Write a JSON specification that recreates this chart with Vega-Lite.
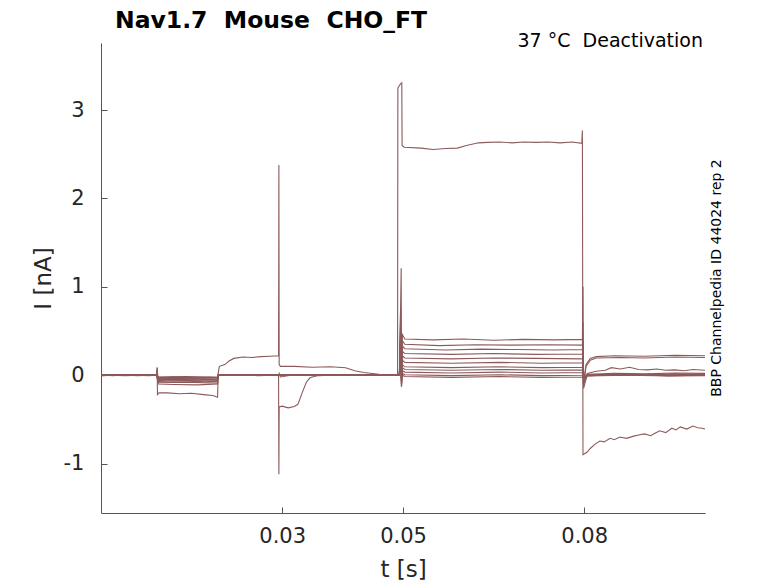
{
  "$schema": "https://vega.github.io/schema/vega-lite/v6.json",
  "description": "Nav1.7 deactivation current traces",
  "width": 604,
  "height": 470,
  "autosize": {"type": "none"},
  "padding": {"left": 101, "top": 43, "right": 73, "bottom": 70},
  "background": "#ffffff",
  "config": {"view": {"stroke": null}, "font": "DejaVu Sans"},
  "title": {
    "text": "Nav1.7\u00a0\u00a0Mouse\u00a0\u00a0CHO_FT",
    "anchor": "start",
    "frame": "group",
    "font": "DejaVu Sans",
    "fontSize": 23.5,
    "fontWeight": "bold",
    "color": "#000000",
    "dx": 14,
    "offset": 0
  },
  "datasets": {
    "traces": [
      {"s":"A","t":0,"i":0.004},{"s":"A","t":0.002,"i":-0.006},{"s":"A","t":0.004,"i":0.005},{"s":"A","t":0.006,"i":-0.004},{"s":"A","t":0.008,"i":0.006},{"s":"A","t":0.0092,"i":0},
      {"s":"A","t":0.0093,"i":0.08},{"s":"A","t":0.00935,"i":-0.04},{"s":"A","t":0.0096,"i":-0.03},{"s":"A","t":0.012,"i":-0.02},{"s":"A","t":0.015,"i":-0.035},{"s":"A","t":0.018,"i":-0.025},{"s":"A","t":0.0193,"i":-0.03},
      {"s":"A","t":0.0194,"i":0},{"s":"A","t":0.021,"i":0.005},{"s":"A","t":0.024,"i":-0.004},{"s":"A","t":0.027,"i":0.006},{"s":"A","t":0.0294,"i":0},
      {"s":"A","t":0.0295,"i":0.02},{"s":"A","t":0.0297,"i":-0.02},{"s":"A","t":0.032,"i":0.004},{"s":"A","t":0.036,"i":-0.005},{"s":"A","t":0.04,"i":0.006},{"s":"A","t":0.044,"i":-0.004},{"s":"A","t":0.048,"i":0.005},{"s":"A","t":0.0491,"i":0},
      {"s":"A","t":0.04915,"i":3.25},{"s":"A","t":0.0495,"i":3.29},{"s":"A","t":0.0498,"i":3.31},{"s":"A","t":0.04985,"i":2.6},{"s":"A","t":0.0502,"i":2.58},{"s":"A","t":0.053,"i":2.57},{"s":"A","t":0.055,"i":2.555},{"s":"A","t":0.057,"i":2.565},{"s":"A","t":0.059,"i":2.57},{"s":"A","t":0.0605,"i":2.6},{"s":"A","t":0.0625,"i":2.63},{"s":"A","t":0.064,"i":2.635},{"s":"A","t":0.066,"i":2.64},{"s":"A","t":0.068,"i":2.63},{"s":"A","t":0.07,"i":2.64},{"s":"A","t":0.072,"i":2.635},{"s":"A","t":0.074,"i":2.64},{"s":"A","t":0.076,"i":2.63},{"s":"A","t":0.078,"i":2.64},{"s":"A","t":0.0796,"i":2.625},
      {"s":"A","t":0.0797,"i":2.77},{"s":"A","t":0.0798,"i":-0.9},{"s":"A","t":0.0805,"i":-0.87},{"s":"A","t":0.081,"i":-0.83},{"s":"A","t":0.0818,"i":-0.78},{"s":"A","t":0.0826,"i":-0.745},{"s":"A","t":0.0833,"i":-0.755},{"s":"A","t":0.0843,"i":-0.715},{"s":"A","t":0.085,"i":-0.73},{"s":"A","t":0.0859,"i":-0.7},{"s":"A","t":0.087,"i":-0.715},{"s":"A","t":0.0882,"i":-0.69},{"s":"A","t":0.0892,"i":-0.675},{"s":"A","t":0.09,"i":-0.665},{"s":"A","t":0.091,"i":-0.685},{"s":"A","t":0.0918,"i":-0.655},{"s":"A","t":0.0925,"i":-0.63},{"s":"A","t":0.0935,"i":-0.65},{"s":"A","t":0.0945,"i":-0.6},{"s":"A","t":0.0952,"i":-0.62},{"s":"A","t":0.0959,"i":-0.585},{"s":"A","t":0.097,"i":-0.61},{"s":"A","t":0.098,"i":-0.575},{"s":"A","t":0.0988,"i":-0.595},{"s":"A","t":0.0995,"i":-0.6},{"s":"A","t":0.1,"i":-0.61},

      {"s":"B","t":0,"i":-0.005},{"s":"B","t":0.003,"i":0.006},{"s":"B","t":0.006,"i":-0.004},{"s":"B","t":0.0092,"i":0.004},
      {"s":"B","t":0.0093,"i":0.05},{"s":"B","t":0.0095,"i":-0.05},{"s":"B","t":0.012,"i":-0.045},{"s":"B","t":0.016,"i":-0.055},{"s":"B","t":0.0193,"i":-0.05},
      {"s":"B","t":0.0194,"i":0},{"s":"B","t":0.022,"i":0.004},{"s":"B","t":0.026,"i":-0.005},{"s":"B","t":0.0294,"i":0.003},
      {"s":"B","t":0.0295,"i":0},{"s":"B","t":0.033,"i":-0.004},{"s":"B","t":0.038,"i":0.005},{"s":"B","t":0.043,"i":-0.003},{"s":"B","t":0.0494,"i":0.004},
      {"s":"B","t":0.0495,"i":0.3},{"s":"B","t":0.0497,"i":1.21},{"s":"B","t":0.04975,"i":-0.12},{"s":"B","t":0.0499,"i":0.46},{"s":"B","t":0.0503,"i":0.41},{"s":"B","t":0.055,"i":0.4},{"s":"B","t":0.06,"i":0.41},{"s":"B","t":0.065,"i":0.395},{"s":"B","t":0.07,"i":0.405},{"s":"B","t":0.075,"i":0.4},{"s":"B","t":0.0797,"i":0.405},
      {"s":"B","t":0.0798,"i":1.0},{"s":"B","t":0.07985,"i":-0.1},{"s":"B","t":0.0803,"i":0.12},{"s":"B","t":0.081,"i":0.19},{"s":"B","t":0.082,"i":0.21},{"s":"B","t":0.085,"i":0.22},{"s":"B","t":0.09,"i":0.215},{"s":"B","t":0.095,"i":0.225},{"s":"B","t":0.1,"i":0.22},

      {"s":"C","t":0,"i":0.005},{"s":"C","t":0.003,"i":-0.004},{"s":"C","t":0.006,"i":0.005},{"s":"C","t":0.0092,"i":-0.003},
      {"s":"C","t":0.0095,"i":-0.04},{"s":"C","t":0.012,"i":-0.035},{"s":"C","t":0.016,"i":-0.045},{"s":"C","t":0.0193,"i":-0.04},
      {"s":"C","t":0.0194,"i":0.003},{"s":"C","t":0.023,"i":-0.004},{"s":"C","t":0.0294,"i":0.004},
      {"s":"C","t":0.0296,"i":-0.003},{"s":"C","t":0.034,"i":0.004},{"s":"C","t":0.04,"i":-0.004},{"s":"C","t":0.045,"i":0.003},{"s":"C","t":0.0494,"i":-0.002},
      {"s":"C","t":0.0496,"i":0.75},{"s":"C","t":0.04975,"i":-0.1},{"s":"C","t":0.0499,"i":0.39},{"s":"C","t":0.0503,"i":0.35},{"s":"C","t":0.056,"i":0.335},{"s":"C","t":0.062,"i":0.345},{"s":"C","t":0.068,"i":0.34},{"s":"C","t":0.074,"i":0.345},{"s":"C","t":0.0797,"i":0.34},
      {"s":"C","t":0.0798,"i":0.6},{"s":"C","t":0.0799,"i":-0.12},{"s":"C","t":0.0803,"i":0.1},{"s":"C","t":0.081,"i":0.17},{"s":"C","t":0.082,"i":0.195},{"s":"C","t":0.086,"i":0.2},{"s":"C","t":0.09,"i":0.195},{"s":"C","t":0.095,"i":0.205},{"s":"C","t":0.1,"i":0.2},

      {"s":"D","t":0,"i":-0.003},{"s":"D","t":0.003,"i":0.005},{"s":"D","t":0.006,"i":-0.005},{"s":"D","t":0.0092,"i":0.003},
      {"s":"D","t":0.0095,"i":-0.06},{"s":"D","t":0.012,"i":-0.055},{"s":"D","t":0.016,"i":-0.065},{"s":"D","t":0.0193,"i":-0.06},
      {"s":"D","t":0.0194,"i":0},{"s":"D","t":0.024,"i":0.005},{"s":"D","t":0.0294,"i":-0.003},
      {"s":"D","t":0.0296,"i":0.004},{"s":"D","t":0.035,"i":-0.004},{"s":"D","t":0.042,"i":0.004},{"s":"D","t":0.0494,"i":0},
      {"s":"D","t":0.0496,"i":0.6},{"s":"D","t":0.04975,"i":-0.13},{"s":"D","t":0.0499,"i":0.33},{"s":"D","t":0.0503,"i":0.3},{"s":"D","t":0.057,"i":0.285},{"s":"D","t":0.063,"i":0.295},{"s":"D","t":0.069,"i":0.29},{"s":"D","t":0.075,"i":0.285},{"s":"D","t":0.0797,"i":0.29},
      {"s":"D","t":0.0798,"i":0.4},{"s":"D","t":0.0799,"i":-0.1},{"s":"D","t":0.0805,"i":0.02},{"s":"D","t":0.082,"i":0.045},{"s":"D","t":0.0835,"i":0.055},{"s":"D","t":0.0845,"i":0.085},{"s":"D","t":0.086,"i":0.07},{"s":"D","t":0.0875,"i":0.09},{"s":"D","t":0.089,"i":0.065},{"s":"D","t":0.0905,"i":0.06},{"s":"D","t":0.092,"i":0.07},{"s":"D","t":0.0935,"i":0.055},{"s":"D","t":0.095,"i":0.06},{"s":"D","t":0.0965,"i":0.05},{"s":"D","t":0.098,"i":0.065},{"s":"D","t":0.1,"i":0.055},

      {"s":"E","t":0,"i":0.006},{"s":"E","t":0.003,"i":-0.003},{"s":"E","t":0.006,"i":0.004},{"s":"E","t":0.0092,"i":-0.004},
      {"s":"E","t":0.0095,"i":-0.03},{"s":"E","t":0.013,"i":-0.025},{"s":"E","t":0.017,"i":-0.035},{"s":"E","t":0.0193,"i":-0.03},
      {"s":"E","t":0.0194,"i":0.002},{"s":"E","t":0.025,"i":-0.003},{"s":"E","t":0.0294,"i":0.004},
      {"s":"E","t":0.0296,"i":-0.002},{"s":"E","t":0.037,"i":0.004},{"s":"E","t":0.044,"i":-0.003},{"s":"E","t":0.0494,"i":0.002},
      {"s":"E","t":0.0496,"i":0.5},{"s":"E","t":0.04975,"i":-0.1},{"s":"E","t":0.0499,"i":0.27},{"s":"E","t":0.0503,"i":0.245},{"s":"E","t":0.058,"i":0.235},{"s":"E","t":0.065,"i":0.245},{"s":"E","t":0.072,"i":0.235},{"s":"E","t":0.0797,"i":0.24},
      {"s":"E","t":0.0798,"i":0.3},{"s":"E","t":0.0799,"i":-0.08},{"s":"E","t":0.0805,"i":0.01},{"s":"E","t":0.085,"i":0.02},{"s":"E","t":0.09,"i":0.015},{"s":"E","t":0.095,"i":0.025},{"s":"E","t":0.1,"i":0.02},

      {"s":"F","t":0,"i":-0.004},{"s":"F","t":0.003,"i":0.004},{"s":"F","t":0.006,"i":-0.003},{"s":"F","t":0.0092,"i":0.005},
      {"s":"F","t":0.0095,"i":-0.07},{"s":"F","t":0.013,"i":-0.065},{"s":"F","t":0.017,"i":-0.075},{"s":"F","t":0.0193,"i":-0.07},
      {"s":"F","t":0.0194,"i":-0.003},{"s":"F","t":0.025,"i":0.004},{"s":"F","t":0.0294,"i":-0.002},
      {"s":"F","t":0.0296,"i":0.003},{"s":"F","t":0.037,"i":-0.004},{"s":"F","t":0.044,"i":0.003},{"s":"F","t":0.0494,"i":-0.002},
      {"s":"F","t":0.0496,"i":0.45},{"s":"F","t":0.04975,"i":-0.08},{"s":"F","t":0.0499,"i":0.22},{"s":"F","t":0.0503,"i":0.195},{"s":"F","t":0.058,"i":0.185},{"s":"F","t":0.065,"i":0.195},{"s":"F","t":0.072,"i":0.19},{"s":"F","t":0.0797,"i":0.185},
      {"s":"F","t":0.0798,"i":0.25},{"s":"F","t":0.0799,"i":-0.06},{"s":"F","t":0.0805,"i":0},{"s":"F","t":0.085,"i":0.012},{"s":"F","t":0.09,"i":0.005},{"s":"F","t":0.095,"i":0.015},{"s":"F","t":0.1,"i":0.01},

      {"s":"G","t":0,"i":0.003},{"s":"G","t":0.004,"i":-0.005},{"s":"G","t":0.008,"i":0.004},{"s":"G","t":0.0092,"i":-0.002},
      {"s":"G","t":0.0095,"i":-0.02},{"s":"G","t":0.014,"i":-0.015},{"s":"G","t":0.0193,"i":-0.025},
      {"s":"G","t":0.0194,"i":0.004},{"s":"G","t":0.026,"i":-0.003},{"s":"G","t":0.0294,"i":0.003},
      {"s":"G","t":0.0296,"i":0},{"s":"G","t":0.038,"i":0.004},{"s":"G","t":0.0494,"i":-0.003},
      {"s":"G","t":0.0496,"i":0.4},{"s":"G","t":0.04975,"i":-0.07},{"s":"G","t":0.0499,"i":0.17},{"s":"G","t":0.0503,"i":0.145},{"s":"G","t":0.058,"i":0.135},{"s":"G","t":0.066,"i":0.145},{"s":"G","t":0.073,"i":0.135},{"s":"G","t":0.0797,"i":0.14},
      {"s":"G","t":0.0798,"i":0.2},{"s":"G","t":0.0799,"i":-0.05},{"s":"G","t":0.0805,"i":-0.005},{"s":"G","t":0.087,"i":0.005},{"s":"G","t":0.094,"i":-0.005},{"s":"G","t":0.1,"i":0},

      {"s":"H","t":0,"i":-0.006},{"s":"H","t":0.004,"i":0.004},{"s":"H","t":0.008,"i":-0.004},{"s":"H","t":0.0092,"i":0.003},
      {"s":"H","t":0.0095,"i":-0.085},{"s":"H","t":0.014,"i":-0.08},{"s":"H","t":0.0193,"i":-0.09},
      {"s":"H","t":0.0194,"i":-0.002},{"s":"H","t":0.026,"i":0.004},{"s":"H","t":0.0294,"i":-0.003},
      {"s":"H","t":0.0296,"i":0.003},{"s":"H","t":0.038,"i":-0.003},{"s":"H","t":0.0494,"i":0.004},
      {"s":"H","t":0.0496,"i":0.35},{"s":"H","t":0.04975,"i":-0.06},{"s":"H","t":0.0499,"i":0.12},{"s":"H","t":0.0503,"i":0.095},{"s":"H","t":0.058,"i":0.085},{"s":"H","t":0.066,"i":0.095},{"s":"H","t":0.073,"i":0.085},{"s":"H","t":0.0797,"i":0.09},
      {"s":"H","t":0.0798,"i":0.15},{"s":"H","t":0.0799,"i":-0.04},{"s":"H","t":0.0805,"i":-0.01},{"s":"H","t":0.087,"i":0},{"s":"H","t":0.094,"i":-0.01},{"s":"H","t":0.1,"i":-0.005},

      {"s":"I","t":0,"i":0.002},{"s":"I","t":0.004,"i":-0.004},{"s":"I","t":0.008,"i":0.005},{"s":"I","t":0.0092,"i":0},
      {"s":"I","t":0.0095,"i":-0.045},{"s":"I","t":0.014,"i":-0.04},{"s":"I","t":0.0193,"i":-0.05},
      {"s":"I","t":0.0194,"i":0.003},{"s":"I","t":0.026,"i":-0.004},{"s":"I","t":0.0294,"i":0.002},
      {"s":"I","t":0.0296,"i":-0.003},{"s":"I","t":0.038,"i":0.004},{"s":"I","t":0.0494,"i":-0.002},
      {"s":"I","t":0.0496,"i":0.3},{"s":"I","t":0.04975,"i":-0.05},{"s":"I","t":0.0499,"i":0.085},{"s":"I","t":0.0503,"i":0.065},{"s":"I","t":0.058,"i":0.055},{"s":"I","t":0.066,"i":0.065},{"s":"I","t":0.073,"i":0.055},{"s":"I","t":0.0797,"i":0.06},
      {"s":"I","t":0.0798,"i":0.12},{"s":"I","t":0.0799,"i":-0.03},{"s":"I","t":0.0805,"i":0},{"s":"I","t":0.087,"i":0.01},{"s":"I","t":0.094,"i":0},{"s":"I","t":0.1,"i":0.005},

      {"s":"J","t":0,"i":-0.002},{"s":"J","t":0.004,"i":0.005},{"s":"J","t":0.008,"i":-0.004},{"s":"J","t":0.0092,"i":0.002},
      {"s":"J","t":0.0095,"i":-0.02},{"s":"J","t":0.014,"i":-0.025},{"s":"J","t":0.0193,"i":-0.02},
      {"s":"J","t":0.0194,"i":0.02},{"s":"J","t":0.0196,"i":0.1},{"s":"J","t":0.0205,"i":0.12},{"s":"J","t":0.0212,"i":0.16},{"s":"J","t":0.022,"i":0.19},{"s":"J","t":0.0235,"i":0.205},{"s":"J","t":0.025,"i":0.2},{"s":"J","t":0.0265,"i":0.21},{"s":"J","t":0.028,"i":0.215},{"s":"J","t":0.0294,"i":0.22},
      {"s":"J","t":0.02945,"i":2.38},{"s":"J","t":0.0295,"i":0.12},{"s":"J","t":0.0297,"i":0.1},{"s":"J","t":0.032,"i":0.1},{"s":"J","t":0.035,"i":0.09},{"s":"J","t":0.038,"i":0.095},{"s":"J","t":0.0405,"i":0.085},{"s":"J","t":0.042,"i":0.05},{"s":"J","t":0.0435,"i":0.03},{"s":"J","t":0.046,"i":0.01},{"s":"J","t":0.0494,"i":0.003},
      {"s":"J","t":0.0496,"i":0.25},{"s":"J","t":0.04975,"i":-0.04},{"s":"J","t":0.0499,"i":0.05},{"s":"J","t":0.0503,"i":0.035},{"s":"J","t":0.058,"i":0.025},{"s":"J","t":0.066,"i":0.035},{"s":"J","t":0.073,"i":0.025},{"s":"J","t":0.0797,"i":0.03},
      {"s":"J","t":0.0798,"i":0.1},{"s":"J","t":0.0799,"i":-0.02},{"s":"J","t":0.0805,"i":-0.005},{"s":"J","t":0.087,"i":0.005},{"s":"J","t":0.094,"i":-0.005},{"s":"J","t":0.1,"i":0},

      {"s":"K","t":0,"i":0.005},{"s":"K","t":0.004,"i":-0.003},{"s":"K","t":0.008,"i":0.004},{"s":"K","t":0.0092,"i":-0.003},
      {"s":"K","t":0.0095,"i":-0.1},{"s":"K","t":0.012,"i":-0.105},{"s":"K","t":0.016,"i":-0.11},{"s":"K","t":0.0193,"i":-0.1},
      {"s":"K","t":0.0194,"i":0},{"s":"K","t":0.026,"i":0.004},{"s":"K","t":0.0294,"i":-0.002},
      {"s":"K","t":0.0296,"i":0.003},{"s":"K","t":0.038,"i":-0.004},{"s":"K","t":0.0494,"i":0.003},
      {"s":"K","t":0.0496,"i":0.2},{"s":"K","t":0.04975,"i":-0.04},{"s":"K","t":0.0499,"i":0.02},{"s":"K","t":0.0503,"i":0.005},{"s":"K","t":0.058,"i":-0.005},{"s":"K","t":0.066,"i":0.005},{"s":"K","t":0.073,"i":-0.005},{"s":"K","t":0.0797,"i":0},
      {"s":"K","t":0.0798,"i":0.08},{"s":"K","t":0.0799,"i":-0.02},{"s":"K","t":0.0805,"i":0},{"s":"K","t":0.087,"i":0.008},{"s":"K","t":0.094,"i":0},{"s":"K","t":0.1,"i":0.005},

      {"s":"L","t":0,"i":-0.004},{"s":"L","t":0.004,"i":0.004},{"s":"L","t":0.008,"i":-0.005},{"s":"L","t":0.0092,"i":0.003},
      {"s":"L","t":0.0093,"i":0.09},{"s":"L","t":0.00935,"i":-0.22},{"s":"L","t":0.0096,"i":-0.2},{"s":"L","t":0.011,"i":-0.2},{"s":"L","t":0.013,"i":-0.21},{"s":"L","t":0.015,"i":-0.205},{"s":"L","t":0.017,"i":-0.22},{"s":"L","t":0.0185,"i":-0.23},{"s":"L","t":0.0193,"i":-0.25},
      {"s":"L","t":0.0194,"i":0},{"s":"L","t":0.026,"i":-0.004},{"s":"L","t":0.0294,"i":0.003},
      {"s":"L","t":0.02945,"i":-1.12},{"s":"L","t":0.0295,"i":-0.36},{"s":"L","t":0.03,"i":-0.35},{"s":"L","t":0.031,"i":-0.37},{"s":"L","t":0.032,"i":-0.355},{"s":"L","t":0.0326,"i":-0.33},{"s":"L","t":0.0333,"i":-0.2},{"s":"L","t":0.034,"i":-0.08},{"s":"L","t":0.0346,"i":-0.03},{"s":"L","t":0.036,"i":0},{"s":"L","t":0.042,"i":0.004},{"s":"L","t":0.0494,"i":-0.003},
      {"s":"L","t":0.0496,"i":0.15},{"s":"L","t":0.04975,"i":-0.13},{"s":"L","t":0.0499,"i":0},{"s":"L","t":0.0503,"i":-0.015},{"s":"L","t":0.058,"i":-0.025},{"s":"L","t":0.066,"i":-0.015},{"s":"L","t":0.073,"i":-0.025},{"s":"L","t":0.0797,"i":-0.02},
      {"s":"L","t":0.0798,"i":0.06},{"s":"L","t":0.0799,"i":-0.15},{"s":"L","t":0.0805,"i":0},{"s":"L","t":0.087,"i":0.012},{"s":"L","t":0.094,"i":0.005},{"s":"L","t":0.1,"i":0.01}
    ],
    "notes": [
      {"label": "37 °C\u00a0\u00a0Deactivation", "t": 0.1, "i": 3.76, "kind": "top"},
      {"label": "BBP Channelpedia ID 44024 rep 2", "t": 0.1, "i": 1.1, "kind": "side"}
    ]
  },
  "layer": [
    {
      "data": {"name": "traces"},
      "mark": {"type": "line", "color": "#8c5a5a", "strokeWidth": 1.1},
      "encoding": {
        "x": {
          "field": "t",
          "type": "quantitative",
          "scale": {"domain": [0, 0.1], "nice": false, "zero": false},
          "axis": {
            "values": [0.03, 0.05, 0.08],
            "labelExpr": "format(datum.value, '.2f')",
            "title": "t [s]",
            "grid": false,
            "tickSize": -6,
            "labelFontSize": 21,
            "labelPadding": 18,
            "titleFontSize": 23,
            "titleFontWeight": "normal",
            "titlePadding": 12,
            "domainColor": "#555555",
            "tickColor": "#555555",
            "labelColor": "#262626",
            "titleColor": "#262626"
          }
        },
        "y": {
          "field": "i",
          "type": "quantitative",
          "scale": {"domain": [-1.56, 3.76], "nice": false, "zero": false},
          "axis": {
            "values": [-1, 0, 1, 2, 3],
            "labelExpr": "'' + datum.value",
            "title": "I [nA]",
            "grid": false,
            "tickSize": -6,
            "labelFontSize": 21,
            "labelPadding": 23,
            "titleFontSize": 23,
            "titleFontWeight": "normal",
            "titlePadding": 8,
            "domainColor": "#555555",
            "tickColor": "#555555",
            "labelColor": "#262626",
            "titleColor": "#262626"
          }
        },
        "detail": {"field": "s", "type": "nominal"}
      }
    },
    {
      "data": {"name": "notes"},
      "transform": [{"filter": "datum.kind == 'top'"}],
      "mark": {"type": "text", "align": "right", "baseline": "alphabetic", "fontSize": 19, "color": "#000000", "dx": -2, "dy": 4},
      "encoding": {
        "x": {"field": "t", "type": "quantitative"},
        "y": {"field": "i", "type": "quantitative"},
        "text": {"field": "label"}
      }
    },
    {
      "data": {"name": "notes"},
      "transform": [{"filter": "datum.kind == 'side'"}],
      "mark": {"type": "text", "align": "center", "baseline": "middle", "angle": 270, "fontSize": 14, "color": "#000000", "dy": 12},
      "encoding": {
        "x": {"field": "t", "type": "quantitative"},
        "y": {"field": "i", "type": "quantitative"},
        "text": {"field": "label"}
      }
    }
  ]
}
